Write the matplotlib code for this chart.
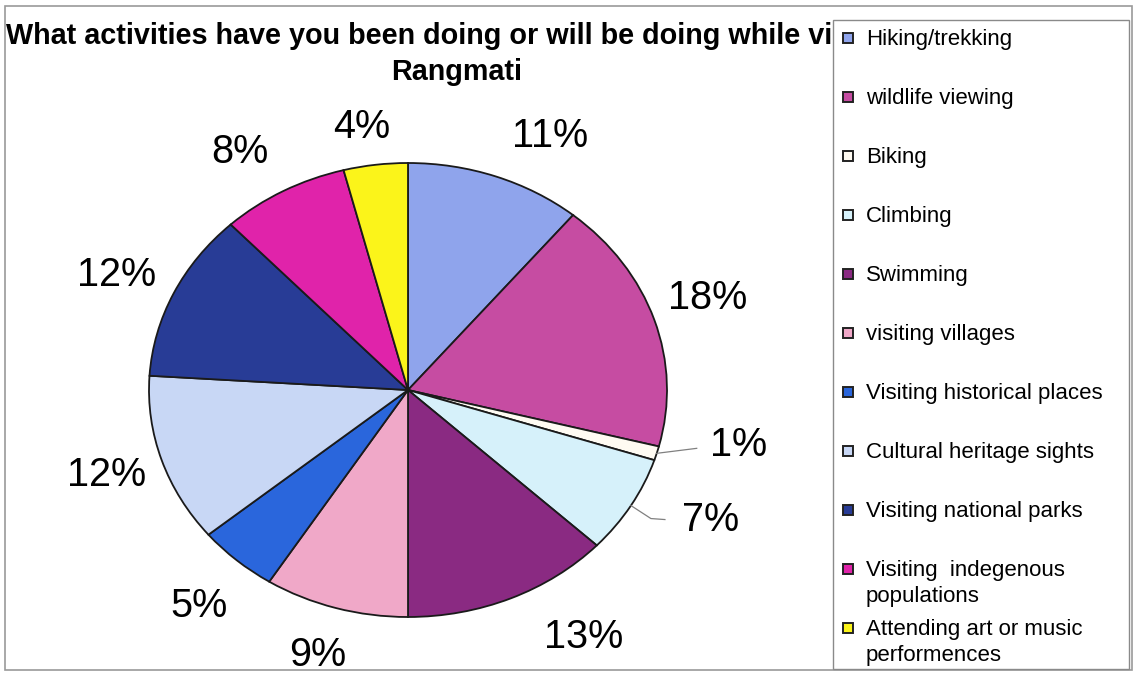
import matplotlib
matplotlib.use("Agg")
import numpy as np
import matplotlib.pyplot as plt
from matplotlib.patches import Rectangle

plt.rcParams["font.family"] = ["Liberation Sans", "DejaVu Sans"]

W, H = 1136, 678

activities = ["Hiking/trekking", "wildlife viewing", "Biking", "Climbing",
              "Swimming", "visiting villages", "Visiting historical places",
              "Cultural heritage sights", "Visiting national parks",
              "Visiting  indegenous\npopulations",
              "Attending art or music\nperformences"]
shares = [11, 18, 1, 7, 13, 9, 5, 12, 12, 8, 4]
colors = ["#8fa4ec", "#c64ca2", "#fffbf2", "#d6f1fa", "#8a2a82", "#f0a8c8",
          "#2a66dc", "#c8d7f5", "#283c96", "#e023aa", "#fbf41a"]

title1 = "What activities have you been doing or will be doing while visiting"
title2 = "Rangmati"

# label placement, in pixels from the rim point at each slice's mid angle
label_offsets = [(54, -40), (53, -22), (82, -8), (80, 14), (73, 39), (-18, 47),
                 (-38, 46), (-55, 15), (-57, -18), (-43, -39), (-14, -38)]
# leader lines (pixel offsets from the rim point) for the thin slices
leaders = {2: [(0, 0), (40, -5)], 3: [(0, 0), (20, 13), (34, 14)]}


def fx(px):
    return px / W


def fy(py):
    return 1 - py / H


fig = plt.figure(figsize=(W / 100, H / 100), dpi=100)
ax = fig.add_axes([0, 0, 1, 1])

# outer chart frame
fig.add_artist(Rectangle((fx(5), fy(670)), fx(1132) - fx(5), fy(6) - fy(670),
                         transform=fig.transFigure, fill=False,
                         edgecolor="#9a9a9a", linewidth=1.2, zorder=1))

wedges, _ = ax.pie(shares, colors=colors, startangle=90, counterclock=False,
                   wedgeprops=dict(edgecolor="#1a1a1a", linewidth=1.3))

# the pie is drawn a little wider than tall
cx, cy, rx, ry = 408, 390, 259, 227
ax.set_aspect("auto")
ax.set_xlim(-cx / rx, (W - cx) / rx)
ax.set_ylim(-(H - cy) / ry, cy / ry)
ax.axis("off")

for i, (w, s) in enumerate(zip(wedges, shares)):
    mid = np.deg2rad((w.theta1 + w.theta2) / 2)
    ex, ey = np.cos(mid), np.sin(mid)
    if i in leaders:
        xs = [ex + dx / rx for dx, dy in leaders[i]]
        ys = [ey - dy / ry for dx, dy in leaders[i]]
        ax.plot(xs, ys, color="#808080", linewidth=0.9)
    ox, oy = label_offsets[i]
    ax.text(ex + ox / rx, ey - oy / ry, f"{s}%", fontsize=28.5,
            ha="center", va="center")

fig.text(fx(457), fy(36), title1, fontsize=20.7, fontweight="bold",
         ha="center", va="center")
fig.text(fx(457), fy(72), title2, fontsize=20.7, fontweight="bold",
         ha="center", va="center")

# legend panel
fig.add_artist(Rectangle((fx(833), fy(669)), fx(1129) - fx(833), fy(20) - fy(669),
                         transform=fig.transFigure, facecolor="white",
                         edgecolor="#8a8a8a", linewidth=1.0, zorder=5))
for i, (name, c) in enumerate(zip(activities, colors)):
    yc = 37 + 59 * i
    fig.add_artist(Rectangle((fx(843), fy(yc + 6)), fx(10), 10 / H,
                             transform=fig.transFigure, facecolor=c,
                             edgecolor="#222222", linewidth=1.4, zorder=6))
    fig.text(fx(866), fy(yc - 8), name, fontsize=16, ha="left", va="top",
             linespacing=1.3, zorder=7)

fig.savefig("out.png", dpi=100, facecolor="white")
